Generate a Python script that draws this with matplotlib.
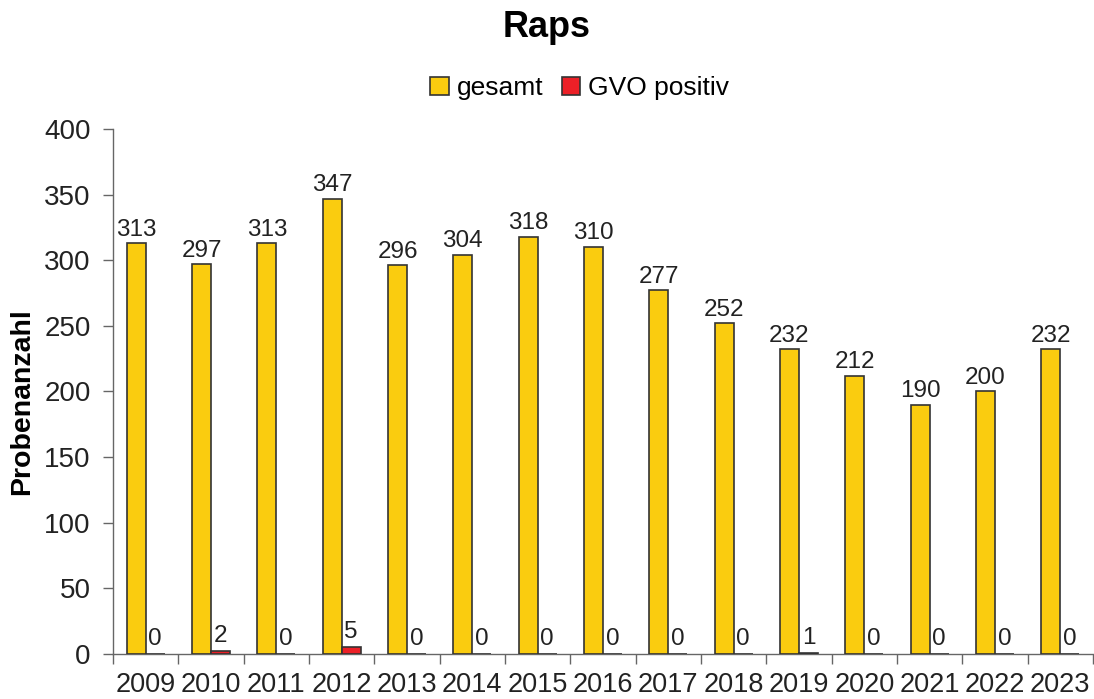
import matplotlib
matplotlib.use("Agg")
import matplotlib.pyplot as plt
import numpy as np
from matplotlib.patches import Patch

plt.rcParams['font.family'] = ['Liberation Sans', 'DejaVu Sans']

years = ["2009", "2010", "2011", "2012", "2013", "2014", "2015", "2016",
         "2017", "2018", "2019", "2020", "2021", "2022", "2023"]
gesamt = [313, 297, 313, 347, 296, 304, 318, 310, 277, 252, 232, 212, 190, 200, 232]
gvo_positiv = [0, 2, 0, 5, 0, 0, 0, 0, 0, 0, 1, 0, 0, 0, 0]

yellow = "#FACC0F"
red = "#EC2027"
edge = "#333333"

fig = plt.figure(figsize=(10.94, 6.99), dpi=100)
ax = fig.add_axes([0.1033, 0.0644, 0.8957, 0.7511])

x = np.arange(len(years))
w = 0.29
ax.bar(x - w / 2, gesamt, width=w, color=yellow, edgecolor=edge, linewidth=1.2, zorder=3)
ax.bar(x + w / 2, gvo_positiv, width=w, color=red, edgecolor=edge, linewidth=1.2, zorder=3)

for xi, v in zip(x, gesamt):
    ax.text(xi - w / 2, v + 2, str(v), ha='center', va='bottom', fontsize=17.5, color='#222222')
for xi, v in zip(x, gvo_positiv):
    ax.text(xi + w / 2, v + 3, str(v), ha='center', va='bottom', fontsize=17.5, color='#222222')

ax.set_xlim(-0.5, len(years) - 0.5)
ax.set_ylim(0, 400)
ax.set_yticks(range(0, 401, 50))
ax.set_xticks(x)
ax.set_xticklabels(years)
ax.set_xticks(np.arange(-0.5, len(years), 1), minor=True)
ax.tick_params(axis='x', which='major', length=0, labelsize=19.5, pad=13, colors='#222222')
ax.tick_params(axis='x', which='minor', length=7, width=1, color='#666666', direction='out')
ax.tick_params(axis='y', length=7, width=1, color='#666666', labelsize=20, labelcolor='#222222', pad=9)

for s in ['top', 'right']:
    ax.spines[s].set_visible(False)
for s in ['left', 'bottom']:
    ax.spines[s].set_color('#666666')
    ax.spines[s].set_linewidth(1)

ax.set_ylabel("Probenanzahl", fontsize=20.5, fontweight='bold')
ax.yaxis.label.set_va('center')
ax.yaxis.set_label_coords(-0.093, 0.48)

fig.suptitle("Raps", fontsize=26, fontweight='bold', y=0.985)

handles = [Patch(facecolor=yellow, edgecolor=edge, linewidth=1.2, label="gesamt"),
           Patch(facecolor=red, edgecolor=edge, linewidth=1.2, label="GVO positiv")]
fig.legend(handles=handles, loc='center', bbox_to_anchor=(0.53, 0.874), ncol=2,
           frameon=False, fontsize=19, handlelength=0.7, handleheight=0.7,
           handletextpad=0.3, columnspacing=0.7)

fig.savefig("out.png", dpi=100)
